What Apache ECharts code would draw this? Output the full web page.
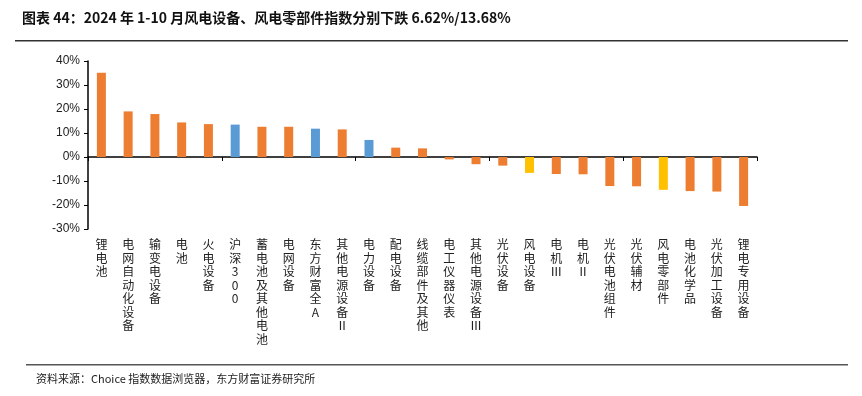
<!DOCTYPE html>
<html>
<head>
<meta charset="utf-8">
<script src="https://cdn.jsdelivr.net/npm/echarts@6/dist/echarts.min.js"></script>
<style>
  html, body { margin: 0; padding: 0; background: #fff; }
  #chart { width: 862px; height: 396px; }
</style>
</head>
<body>
<div id="chart"></div>
<script>
var categories = ['锂电池', '电网自动化设备', '输变电设备', '电池', '火电设备', '沪深300', '蓄电池及其他电池',
  '电网设备', '东方财富全A', '其他电源设备Ⅱ', '电力设备', '配电设备', '线缆部件及其他', '电工仪器仪表',
  '其他电源设备Ⅲ', '光伏设备', '风电设备', '电机Ⅲ', '电机Ⅱ', '光伏电池组件', '光伏辅材', '风电零部件',
  '电池化学品', '光伏加工设备', '锂电专用设备'];
var changes = [35.1, 19.0, 17.9, 14.4, 13.7, 13.5, 12.6, 12.6, 11.8, 11.5, 7.1, 3.9, 3.6, -1.0,
  -3.0, -3.6, -6.62, -7.1, -7.2, -12.1, -12.2, -13.68, -14.2, -14.4, -20.4];
// benchmark / parent indices drawn in blue, wind-power ones in yellow
var benchmarks = ['沪深300', '东方财富全A', '电力设备'];
var highlights = ['风电设备', '风电零部件'];
var yTicks = [-30, -20, -10, 0, 10, 20, 30, 40];

var barData = categories.map(function (name, i) {
  var color = '#ED7D31';
  if (benchmarks.indexOf(name) >= 0) color = '#5B9BD5';
  if (highlights.indexOf(name) >= 0) color = '#FFC000';
  return { value: changes[i], itemStyle: { color: color } };
});

var option = {
  animation: false,
  grid: { left: 88, right: 105, top: 61, bottom: 167 },
  xAxis: [{
    type: 'category',
    data: categories,
    axisLine: { onZero: true, lineStyle: { color: '#000', width: 1.5 } },
    axisTick: { show: true, length: 4, lineStyle: { color: '#000' } },
    axisLabel: { show: false }
  }, {
    type: 'category',
    data: categories,
    position: 'bottom',
    axisLine: { show: false },
    axisTick: { show: false },
    axisLabel: {
      interval: 0,
      margin: 9,
      color: '#222',
      fontSize: 12,
      lineHeight: 13.5,
      fontFamily: 'Noto Sans CJK SC',
      verticalAlign: 'top',
      formatter: function (v) { return v.split('').join('\n'); }
    }
  }],
  yAxis: {
    type: 'value',
    min: yTicks[0],
    max: yTicks[yTicks.length - 1],
    interval: 10,
    splitLine: { show: false },
    axisLine: { show: true, lineStyle: { color: '#000', width: 1.5 } },
    axisTick: { show: true, length: 4, lineStyle: { color: '#000' } },
    axisLabel: {
      color: '#222',
      fontSize: 12,
      fontFamily: 'Liberation Sans',
      margin: 8,
      formatter: '{value}%'
    }
  },
  series: [{
    type: 'bar',
    xAxisIndex: 0,
    data: barData,
    barWidth: 9
  }],
  graphic: [
    { type: 'text', left: 22, top: 11, style: { text: '图表 44：2024 年 1-10 月风电设备、风电零部件指数分别下跌 6.62%/13.68%', font: 'bold 14px "Noto Sans CJK SC"', fill: '#111' } },
    { type: 'rect', shape: { x: 15, y: 40, width: 833, height: 1.5 }, style: { fill: '#333' } },
    { type: 'rect', shape: { x: 26, y: 364, width: 822, height: 1.5 }, style: { fill: '#555' } },
    { type: 'text', left: 36, top: 373, style: { text: '资料来源：Choice 指数数据浏览器，东方财富证券研究所', font: '11px "Noto Sans CJK SC"', fill: '#222' } }
  ]
};

var chart = echarts.init(document.getElementById('chart'));
chart.setOption(option);
</script>
</body>
</html>
